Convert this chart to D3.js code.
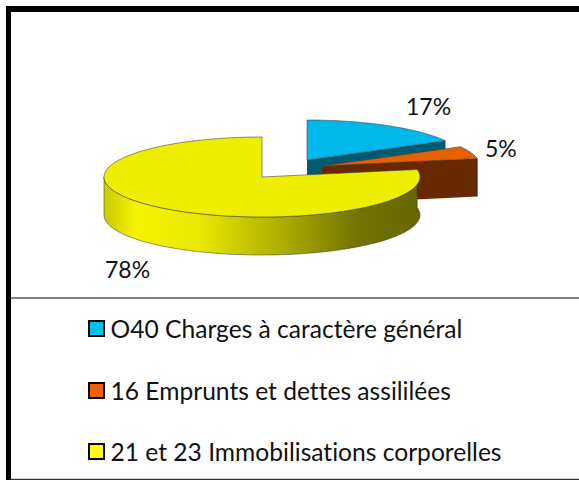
<!DOCTYPE html>
<html><head><meta charset="utf-8">
<style>html,body{margin:0;padding:0;background:#fff}svg{display:block}text{font-variant-ligatures:none}</style>
<script src="https://cdn.jsdelivr.net/npm/d3@7"></script>
</head><body><svg id="c" width="579" height="480"></svg>
<script>
const categories=["O40 Charges à caractère général","16 Emprunts et dettes assililées","21 et 23 Immobilisations corporelles"];
const values=[17,5,78];
const labels=["17%","5%","78%"];
const topColors=["#00B8EA","#E85F00","#EEEE00"];
const sideColors=["#005A72","#682800","#666600"];
const legendColors=["#00C0F0","#F06000","#FFFF00"];
const svg=d3.select("#c");
const defs=svg.append("defs");
const g=defs.append("linearGradient").attr("id","yg").attr("x1","0").attr("x2","1").attr("y1","0").attr("y2","0");
[[0,"#c8c800"],[0.1,"#f4f400"],[0.3,"#e8e800"],[0.55,"#b0b000"],[0.8,"#747400"],[1,"#666600"]].forEach(s=>g.append("stop").attr("offset",s[0]).attr("stop-color",s[1]));

// frame
const frame=svg.append("g");
frame.append("rect").attr("x",6).attr("y",6).attr("width",573).attr("height",6).attr("fill","#000");
frame.append("rect").attr("x",6).attr("y",6).attr("width",5).attr("height",474).attr("fill","#000");
frame.append("line").attr("x1",11).attr("x2",579).attr("y1",298).attr("y2",298).attr("stroke","#555").attr("stroke-width",1.5);
frame.append("line").attr("x1",11).attr("x2",579).attr("y1",479.5).attr("y2",479.5).attr("stroke","#333").attr("stroke-width",1.5);

const rx=158,ry=40,depth=38;
const apex=[[307,160],[322,166],[262,177]];
const pie=d3.pie().sort(null).value(d=>d)(values);
const X=d3.scaleLinear().domain([-1,1]).range([-rx,rx]);
const Y=d3.scaleLinear().domain([-1,1]).range([-ry,ry]);
function pt(i,t,dz){return [apex[i][0]+X(Math.sin(t)),apex[i][1]+Y(-Math.cos(t))+(dz||0)];}
function arcPts(i,a,b,dz){const n=Math.max(2,Math.ceil(Math.abs(b-a)*40)),o=[];for(let k=0;k<=n;k++)o.push(pt(i,a+(b-a)*k/n,dz));return o;}
const line=d3.line();
const layer=svg.append("g");
pie.forEach((p,i)=>{
  const a=p.startAngle,b=p.endAngle,c=apex[i];
  if(i<2){
    const e=pt(i,b);
    layer.append("path").attr("d",line([c,e,[e[0],e[1]+depth],[c[0],c[1]+depth]])+"Z").attr("fill",sideColors[i]);
  }
  const wa=Math.max(a,Math.PI/2-0.2),wb=Math.min(b,3*Math.PI/2);
  if(wb>wa){
    layer.append("path").attr("d",line(arcPts(i,wa,wb,0).concat(arcPts(i,wb,wa,depth)))+"Z")
      .attr("fill",i===2?"url(#yg)":sideColors[i]).attr("stroke","#333").attr("stroke-width",.5);
  }
  layer.append("path").attr("d",line([c].concat(arcPts(i,a,b,0)))+"Z").attr("fill",topColors[i]).attr("stroke","#444").attr("stroke-width",.6);
});
const font="Lato, 'Open Sans', sans-serif";
const lbl=[[406,115],[485,157],[105,278]];
labels.forEach((t,i)=>svg.append("text").attr("x",lbl[i][0]).attr("y",lbl[i][1]).attr("font-family",font).attr("font-size",23).attr("fill","#111").text(t));
const ly=[329,391,452];
categories.forEach((t,i)=>{
  svg.append("rect").attr("x",89).attr("y",ly[i]-8).attr("width",15).attr("height",15).attr("fill",legendColors[i]).attr("stroke","#000").attr("stroke-width",2);
  svg.append("text").attr("x",110.5).attr("y",ly[i]+9).attr("font-family",font).attr("font-size",24.6).attr("fill","#111").text(t);
});
</script></body></html>
